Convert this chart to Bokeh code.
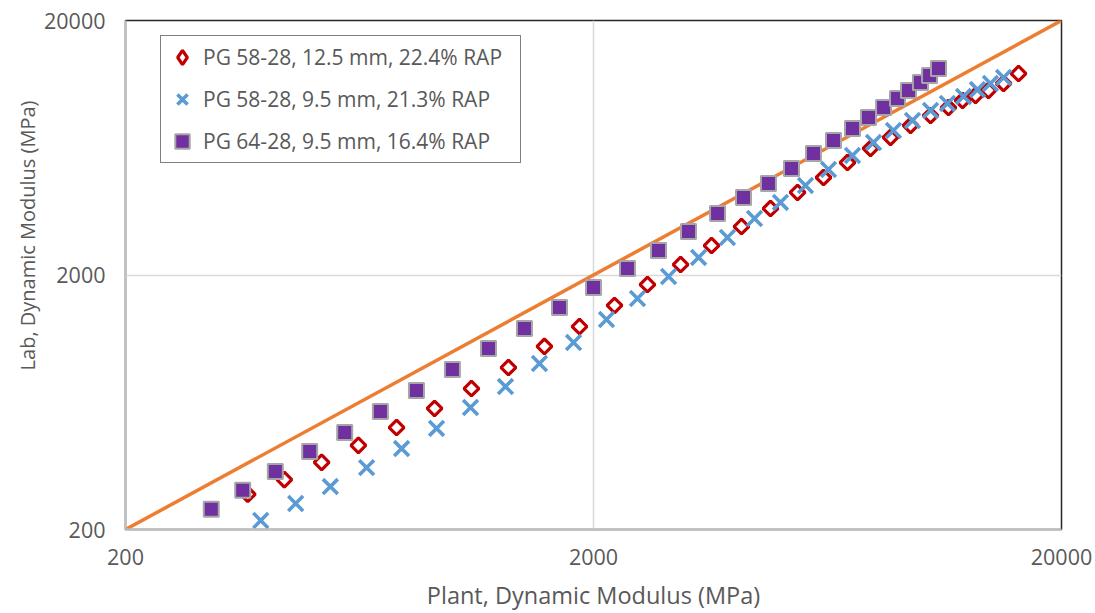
import math
from bokeh.plotting import figure
from bokeh.models import Range1d, FixedTicker, NumeralTickFormatter, Legend, LegendItem, Title
from bokeh.embed import file_html
from bokeh.resources import INLINE

# Plant vs lab dynamic modulus (MPa)
plant_a = [365, 437, 525, 629, 759, 915, 1097, 1316, 1571, 1867, 2218, 2608, 3070, 3575, 4142,
           4778, 5458, 6202, 6978, 7814, 8622, 9516, 10500, 11470, 12290, 13100, 13960, 15040, 16190]
lab_a = [275, 314, 367, 428, 503, 598, 716, 866, 1048, 1255, 1518, 1835, 2199, 2611, 3101,
         3650, 4220, 4832, 5534, 6284, 6940, 7736, 8466, 9102, 9700, 10150, 10620, 11310, 12380]

plant_b = [389, 462, 548, 655, 778, 924, 1092, 1297, 1533, 1813, 2132, 2483, 2894, 3354, 3866,
           4416, 5018, 5676, 6356, 7152, 7932, 8750, 9608, 10500, 11410, 12350, 13230, 14100, 15040]
lab_b = [217, 253, 295, 350, 416, 499, 603, 729, 898, 1086, 1337, 1617, 1973, 2344, 2808,
         3334, 3855, 4494, 5194, 5896, 6632, 7394, 8092, 8862, 9442, 10060, 10710, 11310, 11940]

plant_c = [305, 356, 418, 495, 588, 701, 837, 999, 1193, 1424, 1692, 2000, 2364, 2754, 3192,
           3682, 4184, 4730, 5298, 5904, 6514, 7152, 7738, 8334, 8926, 9422, 9992, 10450, 10920]
lab_c = [240, 285, 338, 405, 481, 582, 703, 851, 1029, 1233, 1491, 1786, 2122, 2498, 2964,
         3488, 4032, 4576, 5242, 6004, 6754, 7526, 8316, 9102, 9876, 10620, 11410, 12160, 12950]

series_names = ["PG 58-28, 12.5 mm, 22.4% RAP",
                "PG 58-28, 9.5 mm, 21.3% RAP",
                "PG 64-28, 9.5 mm, 16.4% RAP"]

equality_x = [200, 20000]
equality_y = [200, 20000]
axis_ticks = [200, 2000, 20000]

FONT = "Open Sans"
TEXT_COLOR = "#595959"

p = figure(width=1095, height=613, x_axis_type="log", y_axis_type="log",
           x_range=Range1d(200, 20000), y_range=Range1d(200, 20000),
           output_backend="svg", toolbar_location=None,
           min_border_left=125, min_border_right=34, min_border_top=20, min_border_bottom=84)
p.background_fill_color = "white"
p.border_fill_color = "white"
p.outline_line_color = "#262626"
p.outline_line_width = 1.5

# line of equality
p.line(equality_x, equality_y, line_color="#ED7D31", line_width=3.5)

diamond_style = dict(fill_color="white", line_color="#C00000", line_width=3.2)
cross_style = dict(line_color="#5B9BD5", line_width=3.6)
square_style = dict(fill_color="#7030A0", line_color="#A6A6A6", line_width=2)

# legend key for the first series (legend keys ignore marker rotation); it sits
# underneath the rotated squares, which hide it completely
key_a = p.scatter(plant_a, lab_a, marker="diamond", size=3, **diamond_style)

r_a = p.scatter(plant_a, lab_a, marker="square", angle=math.pi / 4, size=10.5, **diamond_style)
r_b = p.scatter(plant_b, lab_b, marker="x", size=21, **cross_style)
r_c = p.scatter(plant_c, lab_c, marker="square", size=15, **square_style)

for ax in (p.xaxis[0], p.yaxis[0]):
    ax.ticker = FixedTicker(ticks=axis_ticks, minor_ticks=[])
    ax.formatter = NumeralTickFormatter(format="0")
    ax.axis_line_color = "#BFBFBF"
    ax.axis_line_width = 2
    ax.major_tick_line_color = None
    ax.minor_tick_line_color = None
    ax.major_tick_out = 0
    ax.major_label_text_font = FONT
    ax.major_label_text_font_size = "21.5px"
    ax.major_label_text_color = TEXT_COLOR
    ax.axis_label_text_font = FONT
    ax.axis_label_text_font_size = "23.5px"
    ax.axis_label_text_font_style = "normal"
    ax.axis_label_text_color = TEXT_COLOR

p.xaxis.axis_label = "Plant, Dynamic Modulus (MPa)"
p.xaxis.major_label_standoff = 19
p.yaxis.major_label_standoff = 20
p.xaxis.axis_label_standoff = 11

# y-axis title, its upper end placed a fixed distance below the frame top
p.add_layout(Title(text="Lab, Dynamic Modulus (MPa)", align="right", offset=80,
                   text_font=FONT, text_font_size="20px", text_font_style="normal",
                   text_color=TEXT_COLOR, standoff=2), "left")

p.xgrid.ticker = FixedTicker(ticks=axis_ticks, minor_ticks=[])
p.ygrid.ticker = FixedTicker(ticks=axis_ticks, minor_ticks=[])
p.xgrid.grid_line_color = "#D9D9D9"
p.ygrid.grid_line_color = "#D9D9D9"
p.xgrid.grid_line_width = 1.5
p.ygrid.grid_line_width = 1.5

legend = Legend(items=[LegendItem(label=series_names[0], renderers=[key_a]),
                       LegendItem(label=series_names[1], renderers=[r_b]),
                       LegendItem(label=series_names[2], renderers=[r_c])],
                location=(35, 366))
legend.border_line_color = "black"
legend.border_line_width = 1.5
legend.background_fill_alpha = 1
legend.label_text_font = FONT
legend.label_text_font_size = "21px"
legend.label_text_color = TEXT_COLOR
legend.glyph_width = 36
legend.glyph_height = 36
legend.label_height = 26
legend.label_width = 314
legend.spacing = 6
legend.padding = 3
legend.margin = 0
legend.label_standoff = 3
p.add_layout(legend)

open("out.html", "w").write(file_html(p, INLINE))
